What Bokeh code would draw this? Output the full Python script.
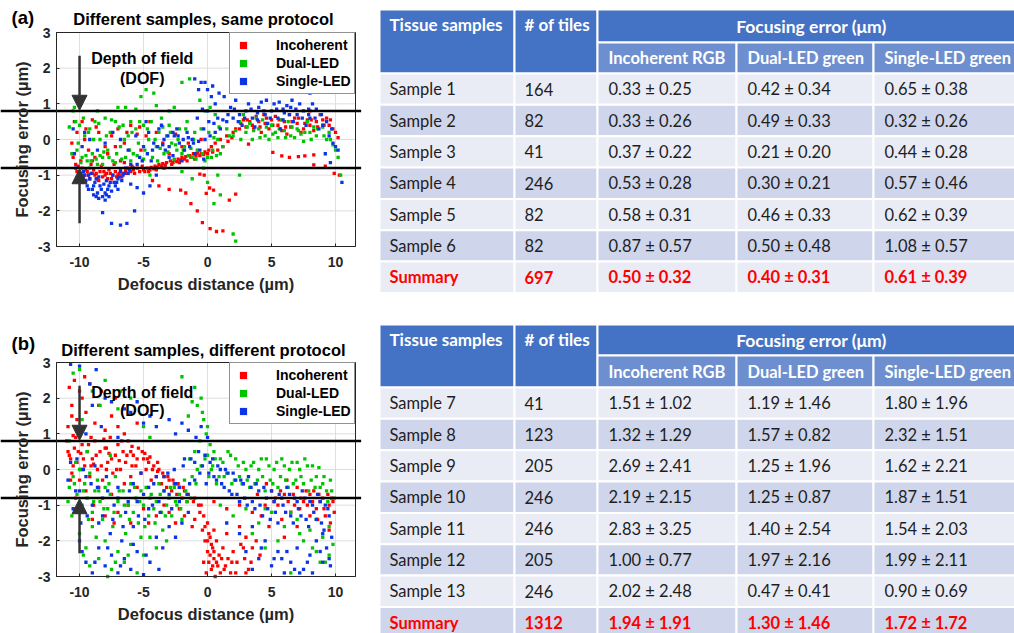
from bokeh.plotting import figure
from bokeh.layouts import row, column
from bokeh.models import Range1d, Label, Arrow, NormalHead, FixedTicker
from bokeh.core.properties import value
from bokeh.embed import file_html
from bokeh.resources import INLINE

# ---------------------------------------------------------------- axes / ticks
X_TICKS = [-10, -5, 0, 5, 10]
X_TICK_LABELS = ["-10", "-5", "0", "5", "10"]
Y_TICKS = [-3, -2, -1, 0, 1, 2, 3]
Y_TICK_LABELS = ["-3", "-2", "-1", "0", "1", "2", "3"]
X_LIM = (-11.8, 11.56)
Y_LIM = (-3, 3)
DOF_HALF = 0.8  # depth of field half-width (µm)

SERIES = ["Incoherent", "Dual-LED", "Single-LED"]
COLORS = ["#ff0000", "#00c400", "#0a34e6"]

# ------------------------------------------- (a) different samples, same protocol
a_incoherent = [
    (-10.6, -0.1), (-10.5, -0.5), (-10.3, -0.7), (-10.2, -0.9), (-10.0, -1.0), (-9.8, -0.8),
    (-9.6, -1.0), (-9.4, -0.9), (-9.2, -1.1), (-9.0, -0.95), (-8.8, -1.0), (-8.6, -1.1),
    (-8.4, -0.9), (-8.2, -1.05), (-8.0, -1.0), (-7.8, -1.1), (-7.6, -0.95), (-7.4, -1.0),
    (-7.2, -0.9), (-7.0, -1.0), (-6.8, -0.85), (-6.6, -0.95), (-6.4, -0.9), (-6.2, -0.8),
    (-6.0, -0.9), (-5.8, -0.85), (-5.5, -0.8), (-9.9, -0.6), (-9.1, -0.7), (-8.3, -0.75),
    (-7.3, -0.7), (-6.5, -0.65),
    (-10.1, -0.75), (-9.7, -1.05), (-9.5, -0.85), (-9.3, -1.0), (-8.9, -0.85), (-8.7, -0.95),
    (-8.5, -1.15), (-8.1, -0.9), (-7.9, -0.95), (-7.7, -0.85), (-7.5, -1.1), (-7.1, -1.05),
    (-6.9, -0.95), (-6.7, -1.05), (-6.3, -0.95), (-6.1, -0.85), (-5.9, -0.75), (-5.7, -0.95),
    (-5.3, -0.9), (-5.1, -0.75), (-4.9, -0.9), (-4.5, -0.85), (-4.2, -0.82), (-3.9, -0.78),
    (-3.6, -0.75), (-3.3, -0.72), (-2.7, -0.65), (-2.4, -0.62), (-2.1, -0.58), (-1.8, -0.55),
    (-1.3, -0.5), (-0.9, -0.46), (-0.6, -0.45), (-0.3, -0.42), (0.0, -0.4), (0.4, -0.35),
    (0.8, -0.3), (1.2, -0.2), (1.6, -0.05), (1.9, 0.05),
    (-10.2, 0.2), (-9.8, 0.5), (-9.5, 0.3), (-9.0, 0.55), (-8.5, 0.2), (-8.0, -0.2),
    (-7.5, 0.1), (-7.0, 0.3), (-6.5, -0.1), (-6.0, 0.4), (-5.5, 0.15), (-9.3, -0.3),
    (-8.8, -0.5), (-7.8, -0.4), (-6.8, -0.6), (-5.2, -0.3), (-4.5, 0.5), (-9.6, 0.0),
    (-8.7, 0.35), (-7.2, -0.2), (-6.3, 0.2), (-5.3, 0.35), (-4.8, 0.1), (-4.0, 0.2),
    (-3.5, -0.1), (-2.5, 0.15), (-10.4, 0.5), (-9.0, -0.6),
    (-5.0, -0.85), (-4.7, -0.8), (-4.4, -0.78), (-4.1, -0.75), (-3.8, -0.7), (-3.5, -0.68),
    (-3.2, -0.65), (-2.9, -0.6), (-2.6, -0.58), (-2.3, -0.55), (-2.0, -0.5), (-1.7, -0.48),
    (-1.4, -0.45), (-1.1, -0.4), (-0.8, -0.38), (-0.5, -0.4), (-0.2, -0.35), (0.1, -0.3),
    (-4.6, -0.9), (-4.0, -0.85), (-3.4, -0.8), (-2.8, -0.7), (-2.2, -0.65), (-1.6, -0.6),
    (-1.0, -0.55), (-3.0, -0.4), (-2.0, -0.2), (-1.5, -0.1), (-0.5, 0.0), (0.3, -0.2),
    (0.6, -0.1), (1.0, 0.0),
    (-4.3, -1.15), (-3.8, -1.3), (-3.0, -1.4), (-2.1, -1.42), (-1.7, -1.5), (-1.3, -1.8),
    (-0.8, -2.0), (-0.4, -2.33), (0.2, -2.5), (0.7, -2.58), (1.2, -2.56), (-0.6, -0.97),
    (-0.26, -1.0), (0.16, -1.36), (0.47, -1.42), (-0.1, -1.51), (1.7, -1.7), (2.2, -1.53),
    (1.5, 0.1), (2.0, 0.2), (2.5, 0.3), (3.0, 0.35), (3.2, -0.13), (3.5, 0.4), (4.0, 0.5),
    (4.5, 0.45), (5.0, 0.55), (5.5, 0.4), (6.0, 0.5), (6.5, 0.35), (7.0, 0.45), (7.5, 0.3),
    (8.0, 0.4), (8.5, 0.5), (9.0, 0.55), (9.5, 0.4), (10.0, 0.2), (10.2, 0.05), (2.8, 0.55),
    (3.8, 0.65), (4.8, 0.3), (5.8, 0.25), (6.8, 0.6), (7.8, 0.55), (8.8, 0.7), (9.3, 0.6),
    (4.2, 0.2), (6.2, 0.15), (3.3, 0.5), (5.3, 0.65), (7.3, 0.2), (8.3, 0.25),
    (2.2, 0.3), (2.6, 0.45), (3.1, 0.55), (3.6, 0.3), (4.1, 0.35), (4.6, 0.6), (5.1, 0.4),
    (5.6, 0.55), (6.1, 0.35), (6.6, 0.5), (7.1, 0.6), (7.6, 0.45), (8.1, 0.55), (8.6, 0.35),
    (9.1, 0.4), (9.6, 0.55), (9.8, 0.3), (4.4, 0.7), (6.4, 0.7), (8.0, 0.8),
    (5.1, -0.36), (5.8, -0.46), (6.4, -0.5), (7.1, -0.48), (7.6, -0.46), (8.3, -0.43),
    (8.3, -0.71), (9.2, -0.75), (9.9, -0.95), (10.3, -1.0),
]
a_dual = [
    (-10.8, 0.35), (-10.5, 0.8), (-10.4, 0.9), (-10.2, -0.3), (-10.0, 0.4), (-9.8, -0.5),
    (-9.6, 0.1), (-9.4, -0.6), (-9.2, 0.3), (-9.0, -0.4), (-8.8, 0.5), (-8.6, -0.7),
    (-8.4, 0.0), (-8.2, -0.5), (-8.0, 0.6), (-7.8, -0.3), (-7.6, 0.2), (-7.4, -0.6),
    (-7.2, 0.5), (-7.0, 0.9), (-6.8, -0.2), (-6.6, 0.4), (-6.4, -0.5), (-6.2, 0.1),
    (-6.0, 0.5), (-5.8, -0.4), (-5.6, 0.3), (-5.4, -0.1), (-5.2, 1.2), (-5.0, 0.4),
    (-4.8, 1.4), (-4.6, 0.0), (-4.4, 0.5), (-4.2, 1.3), (-4.0, -0.2), (-3.8, 0.2),
    (-3.6, 0.6), (-3.4, -0.4), (-3.2, 0.1), (-3.0, 0.4), (-2.8, -0.1), (-2.6, 0.9),
    (-2.4, -0.3), (-2.2, 0.3), (-2.0, 1.6), (-1.8, -0.2), (-1.6, 0.5), (-1.4, 1.7),
    (-1.2, -0.5), (-1.0, 0.2), (-0.8, -0.3), (-0.6, 1.1), (-0.4, -0.4), (-0.2, 0.8),
    (0.0, -0.5), (0.2, 0.9), (0.4, -0.3), (0.6, 0.7), (0.8, 0.0), (1.0, -0.4),
    (-9.9, -0.65), (-9.5, -0.45), (-9.1, -0.6), (-8.7, -0.55), (-8.1, -0.35), (-7.7, -0.5),
    (-7.1, -0.4), (-6.7, -0.55), (-6.1, -0.3), (-5.5, -0.45), (-4.9, -0.3), (-4.3, -0.5),
    (-3.7, -0.25), (-3.1, -0.35), (-2.5, -0.15), (-1.9, -0.3), (-1.3, -0.25),
    (-10.6, -0.4), (-10.3, 0.5), (-10.1, -0.1), (-9.7, 0.6), (-9.3, 0.2), (-8.9, 0.0),
    (-8.5, 0.45), (-7.9, 0.1), (-7.5, 0.55), (-6.9, 0.35), (-6.5, 0.0), (-5.9, 0.2),
    (-5.3, 0.5), (-4.7, 0.3), (-4.1, 0.0), (-3.5, 0.35), (-2.9, 0.2), (-2.3, 0.0),
    (-1.7, 0.3), (-1.1, 0.0), (-0.5, 0.3), (0.1, 0.2), (0.5, 0.05), (0.9, 0.35),
    (-2.0, -0.4), (-1.5, -0.45), (-0.9, -0.55), (-0.2, -0.6), (0.3, -0.5), (0.7, -0.45),
    (-6.0, -0.6), (-7.2, -0.65), (-8.4, -0.45), (-5.0, -0.55), (-3.9, -0.6), (-2.6, -0.55),
    (-3.0, 0.8), (-4.0, 0.95), (-5.6, 0.85), (-8.6, 0.8), (-6.4, 0.9),
    (-4.5, -1.0), (-2.0, -0.9), (-1.2, -1.1), (0.0, -1.2), (0.5, -1.8), (1.0, -1.55),
    (2.0, -2.65), (2.2, -2.85), (0.8, -1.0), (-0.3, -0.8), (2.5, -1.0), (-9.2, -0.8),
    (-8.2, -0.7),
    (1.5, 0.3), (2.0, 0.1), (2.5, 0.5), (3.0, 0.2), (3.5, 0.0), (4.0, 0.3), (4.5, 0.1),
    (5.0, 0.4), (5.5, 0.05), (6.0, 0.25), (6.5, 0.1), (7.0, 0.3), (7.5, -0.05), (8.0, 0.2),
    (8.5, 0.1), (9.0, 0.35), (9.5, 0.2), (10.0, -0.3), (10.4, -1.0), (10.2, -0.5),
    (3.3, 0.45), (4.3, 0.55), (5.3, 0.2), (6.3, 0.5), (7.3, 0.15), (8.3, 0.35), (9.3, 0.0),
    (2.8, 0.7), (6.8, 0.05), (4.8, 0.0),
    (1.2, -0.2), (1.7, 0.1), (2.2, 0.25), (2.6, 0.0), (3.1, 0.35), (3.6, 0.25), (4.1, 0.05),
    (4.6, 0.35), (5.1, 0.15), (5.6, 0.3), (6.1, 0.05), (6.6, 0.35), (7.1, 0.25), (7.6, 0.2),
    (8.1, 0.0), (8.6, 0.3), (9.1, 0.1), (9.6, 0.0), (9.8, -0.15), (3.8, 0.6), (5.8, 0.55),
    (7.8, 0.5),
]
a_single = [
    (-10.3, -0.8), (-10.0, -1.0), (-9.8, -1.2), (-9.6, -1.0), (-9.4, -1.3), (-9.2, -1.1),
    (-9.0, -1.4), (-8.8, -1.2), (-8.6, -1.5), (-8.4, -1.3), (-8.2, -1.6), (-8.0, -1.7),
    (-7.8, -1.4), (-7.6, -1.2), (-7.4, -1.0), (-7.2, -1.3), (-7.0, -1.1), (-6.8, -0.9),
    (-6.6, -1.0), (-6.4, -0.8), (-6.2, -0.95), (-6.0, -0.7), (-9.7, -0.9), (-9.1, -0.95),
    (-8.5, -1.05), (-7.9, -1.15), (-7.3, -1.2), (-6.7, -1.15), (-8.9, -1.55), (-7.7, -1.6),
    (-10.2, -1.1), (-9.9, -0.95), (-9.5, -1.15), (-9.3, -1.0), (-8.9, -1.3), (-8.7, -1.1),
    (-8.3, -1.4), (-8.1, -1.25), (-7.9, -1.55), (-7.7, -1.3), (-7.5, -1.45), (-7.1, -1.2),
    (-6.9, -1.05), (-6.5, -0.95), (-6.1, -0.85), (-5.8, -0.8), (-5.5, -0.7), (-5.1, -0.6),
    (-8.7, -1.6), (-8.0, -1.5), (-9.3, -1.4), (-7.0, -1.4), (-6.0, -1.25), (-5.5, -1.35),
    (-8.5, -1.65), (-8.2, -2.05), (-7.5, -2.35), (-6.8, -2.4), (-6.3, -2.35), (-5.7, -2.0),
    (-5.0, -1.5), (-4.5, -1.3), (-4.0, -1.0),
    (-10.5, 0.3), (-9.8, -0.2), (-9.2, 0.0), (-8.6, -0.3), (-8.0, -0.1), (-7.4, 0.2),
    (-6.8, 0.0), (-6.2, -0.3), (-5.6, 0.1), (-5.0, -0.2), (-4.6, 0.2), (-4.2, -0.1),
    (-3.8, 0.3), (-3.4, 0.0), (-3.0, -0.2), (-2.6, 0.1), (-2.2, -0.1), (-1.8, -0.3),
    (-1.4, -0.2), (-1.0, -0.4), (-0.6, -0.3), (-0.2, 0.0), (0.2, 0.1), (0.6, 0.2),
    (-4.7, -0.4), (-4.3, -0.3), (-3.9, -0.2), (-3.5, -0.15), (-3.1, 0.1), (-2.7, 0.2),
    (-2.3, 0.1), (-1.9, 0.0), (-1.5, 0.05), (-1.1, -0.1), (-0.7, -0.05), (-0.3, 0.3),
    (0.1, 0.5), (0.5, 0.45), (-10.4, -0.4), (-9.6, 0.2),
    (-4.8, 0.5), (-3.6, 0.4), (-2.4, 0.3), (-1.6, 0.2), (-0.8, 0.6), (-0.5, 1.6),
    (-0.2, 1.6), (0.0, 1.4), (0.3, 1.2), (0.6, 1.0), (0.9, 1.3), (-1.0, 1.7), (-0.4, 0.85),
    (0.0, 0.8), (-2.0, -0.6), (-3.0, -0.5), (-5.3, -0.5), (-4.4, -0.6), (-3.3, -0.3),
    (-2.7, -0.45), (-1.2, 0.0), (-0.3, -0.55), (1.3, 1.2), (0.4, 1.5), (-0.7, 1.4),
    (1.0, 0.3), (1.5, 0.5), (2.0, 0.6), (2.5, 0.7), (3.0, 0.8), (3.5, 0.6), (4.0, 0.9),
    (4.5, 0.7), (5.0, 0.8), (5.5, 0.6), (6.0, 0.75), (6.5, 0.9), (7.0, 0.7), (7.5, 0.8),
    (8.0, 0.6), (8.5, 0.85), (9.0, 0.4), (9.5, 0.1), (10.0, -0.2), (10.5, -1.2), (2.2, 1.1),
    (3.2, 1.0), (4.2, 1.05), (5.2, 1.0), (6.2, 0.95), (7.2, 1.0), (8.2, 1.0), (3.7, 0.35),
    (4.7, 0.45), (5.7, 0.3), (6.7, 0.5), (7.7, 0.4), (8.7, 0.3), (2.7, 0.4), (9.2, -0.4),
    (9.6, -0.65), (8.0, 1.3), (1.8, 0.9), (3.9, 0.75), (5.9, 0.85), (7.9, 0.7), (9.7, 0.3),
    (0.8, 0.6), (1.2, 0.55), (1.6, 0.7), (2.1, 0.85), (2.4, 0.5), (2.9, 0.6), (3.4, 0.85),
    (3.9, 0.55), (4.4, 0.8), (4.9, 0.6), (5.4, 0.85), (5.9, 0.55), (6.4, 0.7), (6.9, 0.85),
    (7.4, 0.6), (7.9, 0.85), (8.4, 0.6), (8.9, 0.7), (9.3, 0.5), (9.8, -0.1), (10.2, -0.3),
    (4.6, 1.1), (5.6, 1.05), (6.6, 1.1),
]

# -------------------------------------- (b) different samples, different protocol
b_incoherent = [
    (-10.8, 2.3), (-10.6, 1.8), (-10.4, 2.5), (-10.2, 1.4), (-10.0, 2.2), (-9.8, 2.0),
    (-9.5, 1.6), (-9.2, 2.4), (-8.8, 1.3), (-8.5, 1.8), (-8.0, 1.1), (-7.5, 1.5),
    (-7.0, 1.2), (-6.5, 1.0), (-10.9, 1.2), (-10.7, 0.3), (-6.0, 0.5), (-10.6, 1.5),
    (-9.6, 2.6), (-8.3, 2.2), (-7.2, 2.0), (-5.5, 1.3),
    (-11.0, 0.8), (-10.8, 0.4), (-10.6, -0.1), (-10.4, 0.6), (-10.2, 0.2), (-10.0, -0.3),
    (-9.8, 0.7), (-9.6, 0.1), (-9.4, 0.5), (-9.2, -0.2), (-9.0, 0.3), (-8.8, 0.8),
    (-8.6, 0.0), (-8.4, 0.5), (-8.2, -0.3), (-8.0, 0.6), (-7.8, 0.2), (-7.6, 0.9),
    (-7.4, -0.1), (-7.2, 0.4), (-7.0, 0.7), (-6.8, 0.0), (-6.6, 0.5), (-6.4, 0.2),
    (-6.2, 0.8), (-6.0, -0.2), (-5.8, 0.4), (-5.6, 0.1), (-5.4, 0.6), (-5.2, -0.1),
    (-5.0, 0.3), (-4.8, 0.0), (-4.6, 0.2), (-4.4, -0.3), (-4.2, 0.1), (-4.0, -0.2),
    (-3.8, 0.0), (-3.6, -0.4), (-3.4, -0.2), (-3.2, -0.5), (-3.0, -0.3), (-2.8, -0.6),
    (-2.6, -0.4), (-2.4, -0.7), (-2.2, -0.5), (-2.0, -0.8), (-1.8, -0.6), (-1.6, -0.9),
    (-9.5, -0.6), (-8.5, -0.5), (-7.5, -0.7), (-6.5, -0.4), (-10.3, -0.8), (-7.9, 0.0),
    (-5.5, -0.5), (-9.9, 0.45), (-8.9, 0.15), (-7.7, 0.45), (-6.9, 0.25), (-5.9, 0.65),
    (-4.9, 0.45), (-4.5, 0.35), (-3.9, -0.05), (-10.5, 0.95), (-9.1, 0.9), (-8.1, 0.85),
    (-10.9, 0.5), (-10.7, -0.3), (-10.5, 0.1), (-10.3, 0.9), (-10.1, 0.5), (-9.9, 0.0),
    (-9.7, 0.3), (-9.3, 0.7), (-9.1, 0.1), (-8.7, 0.4), (-8.3, 0.1), (-7.9, 0.6),
    (-7.5, 0.3), (-7.1, 0.0), (-6.7, 0.8), (-6.3, 0.4), (-5.9, 0.1), (-5.5, 0.3),
    (-5.1, 0.5), (-4.7, 0.3), (-4.3, 0.0), (-3.9, 0.2), (-3.5, -0.1), (-3.1, -0.2),
    (-2.7, -0.3), (-2.3, -0.4), (-1.9, -0.5), (-1.5, -0.7), (-1.1, -0.9), (-0.7, -1.0),
    (-10.0, -1.2), (-9.0, -1.4), (-8.0, -1.3), (-7.0, -1.2), (-6.0, -1.5), (-5.0, -1.1),
    (-4.0, -1.3), (-3.0, -1.2), (-2.5, -1.5), (-1.8, -1.3), (-1.2, -1.6), (-8.9, -1.0),
    (-7.3, -1.5), (-6.2, -1.0), (-4.6, -1.5), (-3.4, -1.0), (-2.2, -1.1),
    (-1.0, -1.4), (-0.6, -1.2), (-0.4, -1.7), (-0.2, -2.0), (0.0, -1.5), (0.0, -2.3),
    (0.1, -2.6), (0.2, -1.9), (0.3, -2.8), (0.4, -2.2), (0.5, -2.5), (0.6, -3.0),
    (0.7, -2.0), (0.8, -2.7), (0.9, -2.4), (1.0, -2.9), (-0.3, -2.6), (-0.1, -2.9),
    (0.5, -1.7), (1.2, -2.2), (1.4, -2.7), (1.6, -2.5), (1.8, -2.9), (2.0, -2.3),
    (2.3, -2.6), (2.6, -2.1), (2.9, -2.5), (3.2, -2.8), (3.5, -2.2), (3.8, -2.0),
    (4.1, -2.4), (1.5, -1.8), (2.5, -1.6), (3.0, -1.9), (-0.3, -1.3), (0.1, -1.8),
    (0.3, -2.1), (0.5, -2.3), (0.7, -2.6), (0.2, -2.4), (0.4, -2.7), (0.0, -2.0),
    (-0.2, -1.6), (1.1, -2.5), (1.3, -2.8), (1.9, -2.6), (2.2, -2.9), (2.8, -2.2),
    (3.4, -2.6), (3.0, -2.9),
    (-1.0, -0.8), (-0.5, -1.0), (0.5, -0.9), (1.5, -1.1), (2.5, -1.0), (3.5, -1.2),
    (4.5, -1.0),
    (5.0, -0.6), (5.5, -1.0), (6.0, -0.7), (6.5, -1.2), (7.0, -0.5), (7.5, -0.9),
    (8.0, -0.7), (8.5, -1.1), (9.0, -0.8), (9.5, -1.0), (9.8, -0.9), (6.2, -0.3),
    (7.3, -0.8), (8.3, -0.6), (9.2, -1.3), (9.6, -1.5), (5.8, -1.4), (4.6, -0.4),
    (7.8, -1.0), (8.8, -0.9), (9.4, -0.7), (3.9, -0.7), (5.3, -0.8), (6.8, -1.0),
    (8.6, -1.4), (5.2, -0.9), (5.7, -0.6), (6.3, -0.9), (6.7, -0.7), (7.2, -1.1),
    (7.7, -0.6), (8.2, -0.9), (8.7, -0.7), (9.1, -1.1), (9.7, -0.8), (9.9, -1.2),
    (7.0, -1.6), (8.0, -1.3), (6.0, -1.9), (4.8, -1.6), (4.2, -1.3), (9.5, -1.7),
]
b_dual = [
    (-10.5, 2.7), (-10.0, 2.8), (-9.8, 1.4), (-9.0, 2.2), (-8.0, 2.5), (-7.0, 1.7),
    (-6.0, 2.0), (-5.0, 1.2), (-4.5, 0.9), (-2.0, 2.6), (-1.5, 1.5), (-1.0, 2.3),
    (-0.8, 1.8), (-0.5, 2.0), (-0.3, 1.4), (-0.1, 1.0), (0.0, 1.2), (-0.6, 0.8),
    (-10.8, 0.8), (-10.3, 0.2), (-8.4, 1.8), (-6.8, 2.2), (-9.4, 0.5), (-7.6, 0.4),
    (-1.2, 1.9), (-0.4, 1.6),
    (-10.8, -0.5), (-10.5, -0.2), (-10.2, -0.7), (-10.0, 0.0), (-9.8, -1.0), (-9.6, -0.4),
    (-9.4, -0.8), (-9.2, -0.1), (-9.0, -1.2), (-8.8, -0.6), (-8.6, -0.3), (-8.4, -0.9),
    (-8.2, -1.4), (-8.0, -0.5), (-7.8, -1.1), (-7.6, -0.7), (-7.4, -1.6), (-7.2, -0.2),
    (-7.0, -0.9), (-6.8, -1.3), (-6.6, -0.6), (-6.4, -1.8), (-6.2, -1.0), (-6.0, -0.4),
    (-5.8, -1.2), (-5.6, -0.8), (-5.4, -1.5), (-5.2, -0.6), (-5.0, -1.0), (-4.8, -0.5),
    (-4.6, -1.3), (-4.4, -0.7), (-4.2, -1.1), (-4.0, -0.9), (-3.8, -0.4), (-3.6, -1.2),
    (-3.4, -0.6), (-3.2, -1.0), (-3.0, -0.8), (-2.8, -1.3), (-2.6, -0.5), (-2.4, -1.0),
    (-2.2, -0.7), (-2.0, -1.4), (-1.8, -0.3), (-1.6, -0.9), (-1.4, 0.3), (-1.2, -0.2),
    (-1.0, 0.5), (-0.8, 0.0),
    (-10.9, -0.9), (-10.6, -1.3), (-10.4, -0.4), (-10.1, -1.1), (-9.7, -0.6), (-9.3, -1.4),
    (-8.9, -0.9), (-8.5, -0.6), (-8.1, -1.1), (-7.7, -0.4), (-7.3, -1.2), (-6.9, -0.6),
    (-6.5, -1.0), (-6.1, -1.4), (-5.7, -0.5), (-5.3, -0.9), (-4.9, -1.6), (-4.5, -0.8),
    (-4.1, -1.5), (-3.7, -0.7), (-3.3, -1.3), (-2.9, -0.5), (-2.5, -0.9), (-2.1, -1.1),
    (-1.7, -0.6), (-1.3, -0.8), (-0.9, -0.4), (-0.5, 0.1), (-0.2, 0.3), (0.2, 0.7),
    (0.5, 0.5),
    (-10.0, -1.8), (-9.5, -2.2), (-9.0, -1.6), (-8.5, -2.5), (-8.0, -2.0), (-7.5, -2.8),
    (-7.0, -2.3), (-6.5, -2.6), (-6.0, -2.1), (-5.5, -2.9), (-5.0, -2.4), (-4.5, -1.9),
    (-4.0, -2.2), (-3.5, -1.7), (-7.8, -3.0), (-9.2, -2.7), (-8.7, -1.9), (-7.2, -2.6),
    (-6.2, -2.4), (-5.2, -1.9), (-3.2, -2.0), (-9.7, -2.4),
    (0.0, 0.4), (0.3, 0.0), (0.6, 0.3), (0.9, -0.2), (1.2, 0.2), (1.5, -0.1), (1.8, 0.4),
    (2.1, -0.3), (2.4, 0.1), (2.7, -0.4), (3.0, 0.0), (3.3, -0.5), (3.6, 0.2), (3.9, -0.3),
    (4.2, 0.3), (4.5, -0.6), (4.8, 0.1), (5.1, -0.4), (5.4, 0.2), (5.7, -0.2), (6.0, 0.1),
    (6.3, -0.5), (6.6, 0.2), (6.9, -0.3), (7.2, 0.0), (7.5, -0.4), (7.8, 0.1), (8.1, -0.3),
    (8.4, -0.5), (8.7, 0.05), (9.0, -0.4), (9.3, -0.6), (9.6, -0.3), (9.9, -0.8),
    (0.1, -0.2), (0.4, 0.1), (0.7, -0.4), (1.0, 0.3), (1.3, -0.2), (1.6, 0.5), (1.9, -0.4),
    (2.2, 0.3), (2.5, -0.2), (2.8, 0.2), (3.1, -0.3), (3.4, 0.1), (3.7, -0.4), (4.0, 0.0),
    (4.3, -0.2), (4.6, 0.3), (4.9, -0.3), (5.2, 0.0), (5.5, -0.5), (5.8, 0.3), (6.1, -0.3),
    (6.4, 0.0), (6.7, -0.4), (7.0, 0.2), (7.3, -0.2), (7.6, 0.3), (7.9, -0.6), (8.2, 0.1),
    (8.5, -0.2), (8.8, -0.5), (9.1, -0.2), (9.4, -0.9), (9.7, -0.6),
    (1.0, -1.0), (2.0, -1.3), (3.0, -1.1), (4.0, -1.5), (5.0, -1.2), (6.0, -1.6),
    (7.0, -1.4), (7.5, -2.0), (8.0, -1.7), (8.5, -2.3), (9.0, -1.9), (9.5, -2.4),
    (9.8, -2.1), (6.5, -2.9), (5.5, -2.0), (8.8, -2.6), (4.5, -2.2), (3.5, -1.8),
    (2.5, -0.9), (4.5, -1.1), (6.5, -1.2), (8.5, -1.4), (9.5, -1.6), (7.2, -1.8),
    (8.2, -2.2), (9.2, -2.6),
]
b_single = [
    (-10.7, 2.95), (-10.0, 2.9), (-9.2, 2.4), (-8.7, 2.8), (-8.0, 2.0), (-7.5, 1.9),
    (-6.0, 1.6), (-5.0, 1.3), (-4.0, 1.2), (-3.0, 1.4), (-2.0, 1.3), (-1.5, 1.1),
    (-0.9, 0.9), (-0.5, 1.2), (0.0, 0.9), (-9.5, 1.0), (-7.0, 0.9), (-6.5, 1.7),
    (-9.0, 1.8), (-8.3, 1.2), (-5.5, 1.9), (-4.5, 1.5), (-2.5, 1.0),
    (-10.9, -0.3), (-10.5, -1.1), (-10.2, 0.3), (-10.0, -0.6), (-9.7, 0.0), (-9.4, -1.3),
    (-9.1, -0.4), (-8.8, 0.1), (-8.5, -1.5), (-8.2, -0.8), (-7.9, -0.2), (-7.6, -1.8),
    (-7.3, -1.0), (-7.0, -0.5), (-6.7, -2.0), (-6.4, -1.2), (-6.1, -0.6), (-5.8, -1.6),
    (-5.5, -0.9), (-5.2, -0.1), (-4.9, -1.4), (-4.6, -0.5), (-4.3, -1.0), (-4.0, -0.2),
    (-3.7, -1.2), (-3.4, -0.6), (-3.1, -0.1), (-2.8, -1.1), (-2.5, -0.4), (-2.2, -0.9),
    (-1.9, 0.1), (-1.6, -0.7), (-1.3, 0.3), (-1.0, -0.3), (-0.7, 0.5), (-0.4, 0.1),
    (-0.1, -0.4),
    (-10.7, 0.2), (-10.3, -0.6), (-9.9, -1.5), (-9.5, -0.2), (-9.0, -1.0), (-8.6, -0.5),
    (-8.2, -1.3), (-7.8, -0.6), (-7.4, -1.4), (-7.0, -0.8), (-6.6, -1.6), (-6.2, -0.9),
    (-5.8, -0.4), (-5.4, -1.3), (-5.0, -0.7), (-4.6, -1.1), (-4.2, -0.4), (-3.8, -0.9),
    (-3.4, -0.2), (-3.0, -0.7), (-2.6, 0.0), (-2.2, -0.5), (-1.8, 0.3), (-1.4, -0.4),
    (-1.0, 0.2), (-0.6, -0.1), (-0.2, 0.4),
    (-10.0, -2.0), (-9.5, -2.6), (-9.0, -2.9), (-8.5, -2.2), (-8.0, -2.7), (-7.5, -2.4),
    (-7.0, -2.9), (-6.5, -2.5), (-6.0, -2.8), (-5.5, -2.3), (-5.0, -2.95), (-4.5, -2.6),
    (-4.0, -1.9), (-3.5, -2.2), (-3.0, -1.6), (-2.5, -1.9), (-2.0, -1.5), (-1.5, -1.2),
    (-9.8, -2.3), (-8.8, -2.6), (-7.8, -2.2), (-6.8, -2.7), (-5.8, -2.1), (-4.8, -2.4),
    (-3.8, -2.8),
    (0.2, 0.2), (0.5, -0.2), (0.8, 0.1), (1.1, -0.4), (1.4, 0.0), (1.7, -0.6), (2.0, -0.1),
    (2.3, -0.7), (2.6, -0.3), (2.9, -0.8), (3.2, -0.2), (3.5, -0.9), (3.8, -0.4),
    (4.1, -1.0), (4.4, -0.5), (4.7, -1.1), (5.0, -0.6), (5.3, -1.2), (5.6, -0.7),
    (5.9, -1.0), (6.2, -0.5), (6.5, -1.3), (6.8, -0.8), (7.1, -1.1), (7.4, -0.6),
    (7.7, -1.4), (8.0, -0.9), (8.3, -1.2), (8.6, -0.7), (8.9, -1.5), (9.2, -1.0),
    (9.5, -1.3),
    (0.1, -0.1), (0.4, 0.3), (0.7, -0.3), (1.0, 0.0), (1.3, -0.5), (1.6, -0.1), (1.9, -0.7),
    (2.2, -0.3), (2.5, -0.9), (2.8, -0.4), (3.1, -1.0), (3.4, -0.5), (3.7, -1.1), (4.0, -0.6),
    (4.3, -1.3), (4.6, -0.8), (4.9, -1.4), (5.2, -0.9), (5.5, -1.5), (5.8, -0.8), (6.1, -1.2),
    (6.4, -0.7), (6.7, -1.5), (7.0, -0.9), (7.3, -1.3), (7.6, -0.8), (7.9, -1.6), (8.2, -1.0),
    (8.5, -1.4), (8.8, -0.9), (9.1, -1.7), (9.4, -1.1), (9.7, -1.9),
    (1.5, -1.5), (2.5, -1.8), (3.0, -2.3), (3.5, -1.6), (4.0, -2.5), (4.5, -2.0),
    (5.0, -2.7), (5.5, -2.3), (6.0, -2.9), (6.5, -2.6), (7.0, -2.2), (7.5, -2.8),
    (8.0, -2.4), (8.5, -2.0), (9.0, -2.6), (9.3, -2.2), (9.6, -2.7), (9.0, -1.8),
    (7.2, -2.9), (5.8, -2.5), (3.5, -2.8), (4.2, -2.2), (5.2, -2.5), (6.2, -2.3),
    (6.8, -2.8), (7.8, -2.6), (8.2, -2.9), (8.8, -2.3), (9.5, -2.5),
]

# ------------------------------------------------------------------- tables
HEAD_SAMPLE = "Tissue samples"
HEAD_TILES = "# of tiles"
HEAD_ERROR = "Focusing error (\u03bcm)"
SUB_HEADS = ["Incoherent RGB", "Dual-LED green", "Single-LED green"]

samples_a = ["Sample 1", "Sample 2", "Sample 3", "Sample 4", "Sample 5", "Sample 6", "Summary"]
tiles_a = [164, 82, 41, 246, 82, 82, 697]
incoherent_a = [(0.33, 0.25), (0.33, 0.26), (0.37, 0.22), (0.53, 0.28), (0.58, 0.31), (0.87, 0.57), (0.50, 0.32)]
dual_a = [(0.42, 0.34), (0.49, 0.33), (0.21, 0.20), (0.30, 0.21), (0.46, 0.33), (0.50, 0.48), (0.40, 0.31)]
single_a = [(0.65, 0.38), (0.32, 0.26), (0.44, 0.28), (0.57, 0.46), (0.62, 0.39), (1.08, 0.57), (0.61, 0.39)]

samples_b = ["Sample 7", "Sample 8", "Sample 9", "Sample 10", "Sample 11", "Sample 12", "Sample 13", "Summary"]
tiles_b = [41, 123, 205, 246, 246, 205, 246, 1312]
incoherent_b = [(1.51, 1.02), (1.32, 1.29), (2.69, 2.41), (2.19, 2.15), (2.83, 3.25), (1.00, 0.77), (2.02, 2.48), (1.94, 1.91)]
dual_b = [(1.19, 1.46), (1.57, 0.82), (1.25, 1.96), (1.25, 0.87), (1.40, 2.54), (1.97, 2.16), (0.47, 0.41), (1.30, 1.46)]
single_b = [(1.80, 1.96), (2.32, 1.51), (1.62, 2.21), (1.87, 1.51), (1.54, 2.03), (1.99, 2.11), (0.90, 0.69), (1.72, 1.72)]

AX_FONT = "Liberation Sans"
INK = "#262626"
PANEL_W = 368
PLOT_LEFT, PLOT_RIGHT = 56, 355          # plot box edges inside each panel (px)
PLOT_H = 214                             # plot box height (px)
LEGEND_LEFT = 229


def scatter_panel(tag, title, series, height, box_top, tag_y, title_y, dof_y, legend_top):
    # The canvas frame covers the whole panel; the axes are pinned to the plot box
    # so that the DOF limits and the panel headings can run outside that box.
    ppx = (PLOT_RIGHT - PLOT_LEFT) / (X_LIM[1] - X_LIM[0])
    ppy = PLOT_H / (Y_LIM[1] - Y_LIM[0])
    xr = Range1d(X_LIM[0] - PLOT_LEFT / ppx, X_LIM[1] + (PANEL_W - PLOT_RIGHT) / ppx)
    yr = Range1d(Y_LIM[0] - (height - box_top - PLOT_H) / ppy, Y_LIM[1] + box_top / ppy)
    p = figure(width=PANEL_W, height=height, min_border=0, x_range=xr, y_range=yr,
               output_backend="svg", toolbar_location=None)
    p.outline_line_color = None
    p.grid.visible = False

    # grid lines inside the plot box
    p.segment(x0=X_TICKS, x1=X_TICKS, y0=[Y_LIM[0]] * len(X_TICKS), y1=[Y_LIM[1]] * len(X_TICKS),
              line_color="#dedede", line_width=1)
    p.segment(x0=[X_LIM[0]] * len(Y_TICKS), x1=[X_LIM[1]] * len(Y_TICKS), y0=Y_TICKS, y1=Y_TICKS,
              line_color="#dedede", line_width=1)

    for name, color, pts in zip(SERIES, COLORS, series):
        xs = [q[0] for q in pts]
        ys = [q[1] for q in pts]
        p.scatter(xs, ys, marker="square", size=3.3, color=color, line_width=0,
                  legend_label=name)

    # plot box
    p.quad(left=[X_LIM[0]], right=[X_LIM[1]], bottom=[Y_LIM[0]], top=[Y_LIM[1]],
           fill_alpha=0, line_color=INK, line_width=1)

    # depth-of-field limits, running across the whole panel
    p.segment(x0=[xr.start] * 2, x1=[12.0] * 2, y0=[DOF_HALF, -DOF_HALF], y1=[DOF_HALF, -DOF_HALF],
              line_color="black", line_width=2.4)
    # arrows pointing at the DOF limits
    for y0, y1 in ((2.35, DOF_HALF + 0.02), (-2.35, -DOF_HALF - 0.02)):
        p.add_layout(Arrow(end=NormalHead(size=15, fill_color="#333333", line_color="#333333"),
                           x_start=-10.0, y_start=y0, x_end=-10.0, y_end=y1,
                           line_color="#333333", line_width=2.5))
    for txt, y in (("Depth of field", dof_y[0]), ("(DOF)", dof_y[1])):
        p.add_layout(Label(x=-5.1, y=y, text=txt, text_align="center", text_baseline="middle",
                           text_font=AX_FONT, text_font_style="bold", text_font_size="16px",
                           text_color="black"))

    p.add_layout(Label(x=xr.start + 11 / ppx, y=tag_y, text=tag, text_align="left",
                       text_baseline="middle", text_font=AX_FONT, text_font_style="bold",
                       text_font_size="18.5px", text_color="black"))
    p.add_layout(Label(x=(X_LIM[0] + X_LIM[1]) / 2 - 0.2, y=title_y, text=title,
                       text_align="center", text_baseline="middle", text_font=AX_FONT,
                       text_font_style="bold", text_font_size="16.5px", text_color="black"))

    p.xaxis.fixed_location = Y_LIM[0]
    p.yaxis.fixed_location = X_LIM[0]
    p.xaxis.bounds = X_LIM
    p.yaxis.bounds = Y_LIM
    p.xaxis.ticker = FixedTicker(ticks=X_TICKS)
    p.yaxis.ticker = FixedTicker(ticks=Y_TICKS)
    p.xaxis.major_label_overrides = dict(zip(X_TICKS, X_TICK_LABELS))
    p.yaxis.major_label_overrides = dict(zip(Y_TICKS, Y_TICK_LABELS))
    p.xaxis.axis_label = "Defocus distance (\u00b5m)"
    p.yaxis.axis_label = "Focusing error (\u00b5m)"
    for ax in (p.xaxis, p.yaxis):
        ax.major_label_text_font = AX_FONT
        ax.major_label_text_font_style = "bold"
        ax.major_label_text_font_size = "14px"
        ax.major_label_text_color = INK
        ax.axis_label_text_font = AX_FONT
        ax.axis_label_text_font_style = "bold"
        ax.axis_label_text_font_size = "16.5px"
        ax.axis_label_text_color = INK
        ax.axis_line_color = INK
        ax.major_tick_line_color = INK
        ax.major_tick_in = 3
        ax.major_tick_out = 0
        ax.minor_tick_line_color = None
    p.xaxis.major_label_standoff = 10
    p.xaxis.axis_label_standoff = 5
    p.yaxis.major_label_standoff = 6
    p.yaxis.axis_label_standoff = 4

    lg = p.legend[0]
    lg.location = (LEGEND_LEFT, height - legend_top - 60)
    lg.margin = 0
    lg.padding = 3
    lg.spacing = 0
    lg.glyph_width = 20
    lg.glyph_height = 18
    lg.label_height = 18
    lg.label_standoff = 23
    lg.label_text_font = AX_FONT
    lg.label_text_font_style = "bold"
    lg.label_text_font_size = "14px"
    lg.label_text_color = "black"
    lg.border_line_color = INK
    lg.border_line_width = 1
    lg.background_fill_alpha = 1.0
    return p


fig_a = scatter_panel("(a)", "Different samples, same protocol",
                      [a_incoherent, a_dual, a_single], 316, 32, 3.42, 3.39, (2.27, 1.71), 34)
fig_b = scatter_panel("(b)", "Different samples, different protocol",
                      [b_incoherent, b_dual, b_single], 317, 46, 3.53, 3.34, (2.16, 1.65), 48)

# ------------------------------------------------------------ table canvas
tab = figure(width=646, height=633, x_range=Range1d(368, 1014), y_range=Range1d(633, 0),
             x_axis_type=None, y_axis_type=None, min_border=0,
             output_backend="svg", toolbar_location=None)
tab.grid.visible = False
tab.outline_line_color = None

COL_EDGES = [379, 514, 597, 736, 873, 1024]
HEAD_BLUE = "#4472c4"
SUB_BLUE = "#6e8fcf"
ROW_FILLS = ["#e9ebf5", "#cfd5ea"]
BODY_INK = "#1e1e1e"
SUMMARY_RED = "#ff0000"
TABLE_FONT = "Lato"
ROW_H = 31.35


def fmt(pair):
    return f"{pair[0]:.2f} \u00b1 {pair[1]:.2f}"


def draw_table(top, mid, bottom, samples, tiles, inc, dual, single):
    L, R, T, B, F = [], [], [], [], []

    def cell(l, r, t, b, f):
        L.append(l); R.append(r); T.append(t); B.append(b); F.append(f)

    cell(COL_EDGES[0], COL_EDGES[1], top, bottom, HEAD_BLUE)
    cell(COL_EDGES[1], COL_EDGES[2], top, bottom, HEAD_BLUE)
    cell(COL_EDGES[2], COL_EDGES[5], top, mid, HEAD_BLUE)
    for k in range(3):
        cell(COL_EDGES[2 + k], COL_EDGES[3 + k], mid, bottom, SUB_BLUE)
    n = len(samples)
    for i in range(n):
        y0 = bottom + i * ROW_H
        for c in range(5):
            cell(COL_EDGES[c], COL_EDGES[c + 1], y0, y0 + ROW_H, ROW_FILLS[i % 2])
    tab.quad(left=L, right=R, top=T, bottom=B, fill_color=F, line_color="white", line_width=2)

    # header texts
    tab.text([COL_EDGES[0] + 10, COL_EDGES[1] + 10], [top + 15, top + 15],
             text=[HEAD_SAMPLE, HEAD_TILES], text_color="white",
             text_font=value(TABLE_FONT), text_font_style="bold", text_font_size=value("17px"),
             text_baseline="middle", text_align="left")
    tab.text([COL_EDGES[2 + k] + 11 for k in range(3)], [(mid + bottom) / 2] * 3,
             text=SUB_HEADS, text_color="white",
             text_font=value(TABLE_FONT), text_font_style="bold", text_font_size=value("16.5px"),
             text_baseline="middle", text_align="left")
    tab.text([811], [(top + mid) / 2 + 0.5], text=[HEAD_ERROR], text_color="white",
             text_font=value(TABLE_FONT), text_font_style="bold", text_font_size=value("17.5px"),
             text_baseline="middle", text_align="center")

    # body texts
    for style, color, rows in (("normal", BODY_INK, range(n - 1)), ("bold", SUMMARY_RED, [n - 1])):
        xs, ys, ts = [], [], []
        for i in rows:
            yc = bottom + (i + 0.5) * ROW_H
            vals = [samples[i], str(tiles[i]), fmt(inc[i]), fmt(dual[i]), fmt(single[i])]
            for c, v in enumerate(vals):
                xs.append(COL_EDGES[c] + 10 + (1 if c >= 2 else 0))
                ys.append(yc)
                ts.append(v)
        tab.text(xs, ys, text=ts, text_color=color, text_font=value(TABLE_FONT),
                 text_font_style=style, text_font_size=value("16.5px"),
                 text_baseline="middle", text_align="left")


draw_table(9, 42, 73, samples_a, tiles_a, incoherent_a, dual_a, single_a)
draw_table(324, 355, 387, samples_b, tiles_b, incoherent_b, dual_b, single_b)

layout = row(column(fig_a, fig_b), tab)
open("out.html", "w").write(file_html(layout, INLINE))
